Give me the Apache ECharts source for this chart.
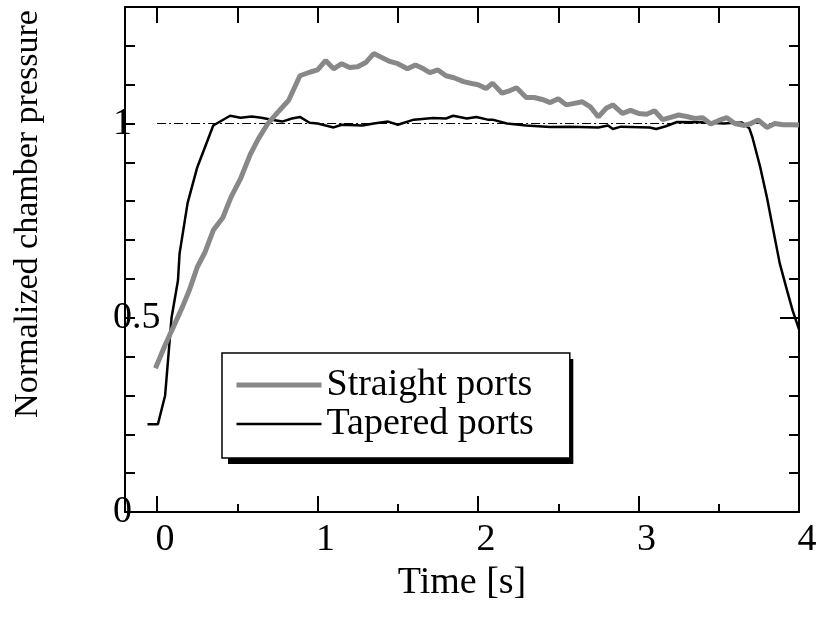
<!DOCTYPE html>
<html>
<head>
<meta charset="utf-8">
<script src="https://cdn.jsdelivr.net/npm/echarts@6/dist/echarts.min.js"></script>
<style>
html,body{margin:0;padding:0;background:#fff;}
#chart{width:822px;height:621px;}
</style>
</head>
<body>
<div id="chart"></div>
<script>
// ---- Data ----
const seriesNames = ['Straight ports', 'Tapered ports'];
const xTickLabels = [0, 1, 2, 3, 4];
const xMinorTicks = [0.5, 1.5, 2.5, 3.5];
const xTopTicks = [0, 0.5, 1, 1.5, 2, 2.5, 3, 3.5];
const yTickLabels = [0, 0.5, 1];
const yMinorTicks = [0.1, 0.2, 0.3, 0.4, 0.5, 0.6, 0.7, 0.8, 0.9, 1.0, 1.1, 1.2];
const yRightMajorTicks = [0.5, 1.0];
const referenceLevel = 1;

const straightTime = [-0.01,0.05,0.10,0.16,0.20,0.25,0.30,0.35,0.41,0.46,0.52,0.58,0.63,0.69,0.75,0.82,0.89,0.95,1.00,1.05,1.10,1.15,1.20,1.25,1.30,1.35,1.40,1.45,1.50,1.56,1.61,1.66,1.70,1.75,1.80,1.85,1.91,1.96,2.00,2.05,2.09,2.15,2.20,2.24,2.30,2.35,2.40,2.45,2.50,2.55,2.60,2.65,2.70,2.75,2.80,2.84,2.90,2.95,3.00,3.05,3.10,3.15,3.20,3.25,3.30,3.35,3.40,3.45,3.50,3.55,3.60,3.66,3.70,3.745,3.80,3.85,3.90,3.95,4.00];
const straightValue = [0.37,0.43,0.475,0.53,0.57,0.63,0.67,0.725,0.758,0.81,0.858,0.92,0.96,1.0,1.028,1.06,1.123,1.132,1.138,1.162,1.141,1.154,1.144,1.146,1.157,1.18,1.17,1.16,1.154,1.141,1.151,1.141,1.131,1.138,1.123,1.118,1.108,1.103,1.10,1.09,1.104,1.078,1.085,1.092,1.067,1.067,1.062,1.054,1.064,1.048,1.052,1.056,1.043,1.017,1.04,1.048,1.026,1.034,1.026,1.024,1.033,1.010,1.016,1.022,1.018,1.013,1.015,0.999,1.008,1.015,1.0,0.995,1.0,1.009,0.99,1.0,0.997,0.997,0.996];

const taperedTime = [-0.06,0.005,0.05,0.09,0.13,0.14,0.19,0.25,0.35,0.455,0.52,0.59,0.65,0.715,0.78,0.84,0.89,0.95,1.00,1.10,1.15,1.28,1.35,1.44,1.50,1.60,1.72,1.80,1.845,1.93,1.99,2.06,2.09,2.18,2.30,2.45,2.57,2.75,2.81,2.84,2.89,3.07,3.11,3.17,3.24,3.40,3.53,3.645,3.69,3.71,3.757,3.80,3.84,3.88,3.925,3.96,4.00];
const taperedValue = [0.226,0.226,0.30,0.50,0.596,0.665,0.795,0.887,0.995,1.02,1.015,1.018,1.015,1.01,1.005,1.013,1.017,1.002,1.0,0.99,0.997,0.995,1.0,1.005,0.997,1.01,1.014,1.013,1.02,1.013,1.017,1.01,1.01,1.0,0.995,0.991,0.992,0.99,0.995,0.986,0.992,0.99,0.986,0.993,1.004,1.003,1.0,1.003,0.988,0.964,0.89,0.81,0.725,0.64,0.571,0.519,0.47];

const FONT = '"Liberation Serif", "Times New Roman", Times, serif';
const GRAY = '#888888';
const zip = (a, b) => a.map((t, i) => [t, b[i]]);

const chart = echarts.init(document.getElementById('chart'), null, {renderer: 'canvas'});
const axisLineStyle = {show: true, onZero: false, lineStyle: {color: '#000', width: 2}};
const noLine = {show: false, onZero: false};
const tickStyle = {color: '#000', width: 2};
const hiddenSym = {color: 'rgba(0,0,0,0)', borderWidth: 0, opacity: 0};

const legendCommon = {
  orient: 'vertical',
  itemWidth: 85, itemHeight: 14, itemGap: 1,
  padding: [13, 36, 15, 12],
  borderRadius: 0,
  selectedMode: false
};

chart.setOption({
  animation: false,
  backgroundColor: '#fff',
  grid: {left: 125, right: 23, top: 7, bottom: 109, containLabel: false},
  legend: [
    Object.assign({}, legendCommon, {
      // drop shadow box
      left: 228, top: 359, z: 20,
      backgroundColor: '#000', borderWidth: 0,
      textStyle: {fontFamily: FONT, fontSize: 38, lineHeight: 38, color: 'rgba(0,0,0,0)'},
      data: seriesNames.map(n => ({name: n, itemStyle: hiddenSym, lineStyle: {width: 0, color: 'rgba(0,0,0,0)'}}))
    }),
    Object.assign({}, legendCommon, {
      left: 222, top: 353, z: 21,
      backgroundColor: '#fff',
      borderColor: '#000', borderWidth: 1.5,
      textStyle: {fontFamily: FONT, fontSize: 38, lineHeight: 38, color: '#000'},
      data: [
        {name: seriesNames[0], itemStyle: hiddenSym, lineStyle: {width: 5, color: GRAY}},
        {name: seriesNames[1], itemStyle: hiddenSym, lineStyle: {width: 2.5, color: '#000'}}
      ]
    })
  ],
  xAxis: [
    {
      type: 'value', position: 'bottom', min: -0.2, max: 4,
      axisLine: axisLineStyle,
      axisTick: {show: true, inside: true, length: 16, customValues: xTickLabels, lineStyle: tickStyle},
      axisLabel: {show: true, customValues: xTickLabels, margin: 9, padding: [0, 0, 0, 16],
        fontFamily: FONT, fontSize: 38, color: '#000'},
      splitLine: {show: false},
      name: 'Time [s]', nameLocation: 'middle', nameGap: 50,
      nameTextStyle: {fontFamily: FONT, fontSize: 38, color: '#000'}
    },
    {
      type: 'value', position: 'bottom', min: -0.2, max: 4,
      axisLine: noLine,
      axisTick: {show: true, inside: true, length: 8, customValues: xMinorTicks, lineStyle: tickStyle},
      axisLabel: {show: false}, splitLine: {show: false}
    },
    {
      type: 'value', position: 'top', min: -0.2, max: 4,
      axisLine: axisLineStyle,
      axisTick: {show: true, inside: true, length: 16, customValues: xTopTicks, lineStyle: tickStyle},
      axisLabel: {show: false}, splitLine: {show: false}
    }
  ],
  yAxis: [
    {
      type: 'value', position: 'left', min: 0, max: 1.3,
      axisLine: axisLineStyle,
      axisTick: {show: true, inside: true, length: 10, customValues: yMinorTicks, lineStyle: tickStyle},
      axisLabel: {show: true, customValues: yTickLabels, align: 'left', margin: 12,
        fontFamily: FONT, fontSize: 38, color: '#000', formatter: v => String(v)},
      splitLine: {show: false},
      name: 'Normalized chamber pressure', nameLocation: 'middle', nameRotate: 90, nameGap: 80,
      nameTextStyle: {fontFamily: FONT, fontSize: 34, color: '#000', padding: [0, 0, 0, 91]}
    },
    {
      type: 'value', position: 'right', min: 0, max: 1.3,
      axisLine: axisLineStyle,
      axisTick: {show: true, inside: true, length: 10, customValues: yMinorTicks, lineStyle: tickStyle},
      axisLabel: {show: false}, splitLine: {show: false}
    },
    {
      type: 'value', position: 'right', min: 0, max: 1.3,
      axisLine: noLine,
      axisTick: {show: true, inside: true, length: 19, customValues: yRightMajorTicks, lineStyle: tickStyle},
      axisLabel: {show: false}, splitLine: {show: false}
    }
  ],
  series: [
    {
      name: seriesNames[1], type: 'line', xAxisIndex: 0, yAxisIndex: 0,
      data: zip(taperedTime, taperedValue),
      symbol: 'none', showSymbol: false,
      lineStyle: {color: '#000', width: 2.5},
      itemStyle: {color: '#000'},
      z: 2,
      markLine: {
        silent: true, symbol: 'none', label: {show: false},
        lineStyle: {color: '#000', width: 1.2, type: [9, 3, 2, 3]},
        data: [[{coord: [0, referenceLevel]}, {coord: [4, referenceLevel]}]],
        z: 1
      }
    },
    {
      name: seriesNames[0], type: 'line', xAxisIndex: 0, yAxisIndex: 0,
      data: zip(straightTime, straightValue),
      symbol: 'none', showSymbol: false,
      lineStyle: {color: GRAY, width: 5},
      itemStyle: {color: GRAY},
      z: 3
    }
  ]
});
</script>
</body>
</html>
